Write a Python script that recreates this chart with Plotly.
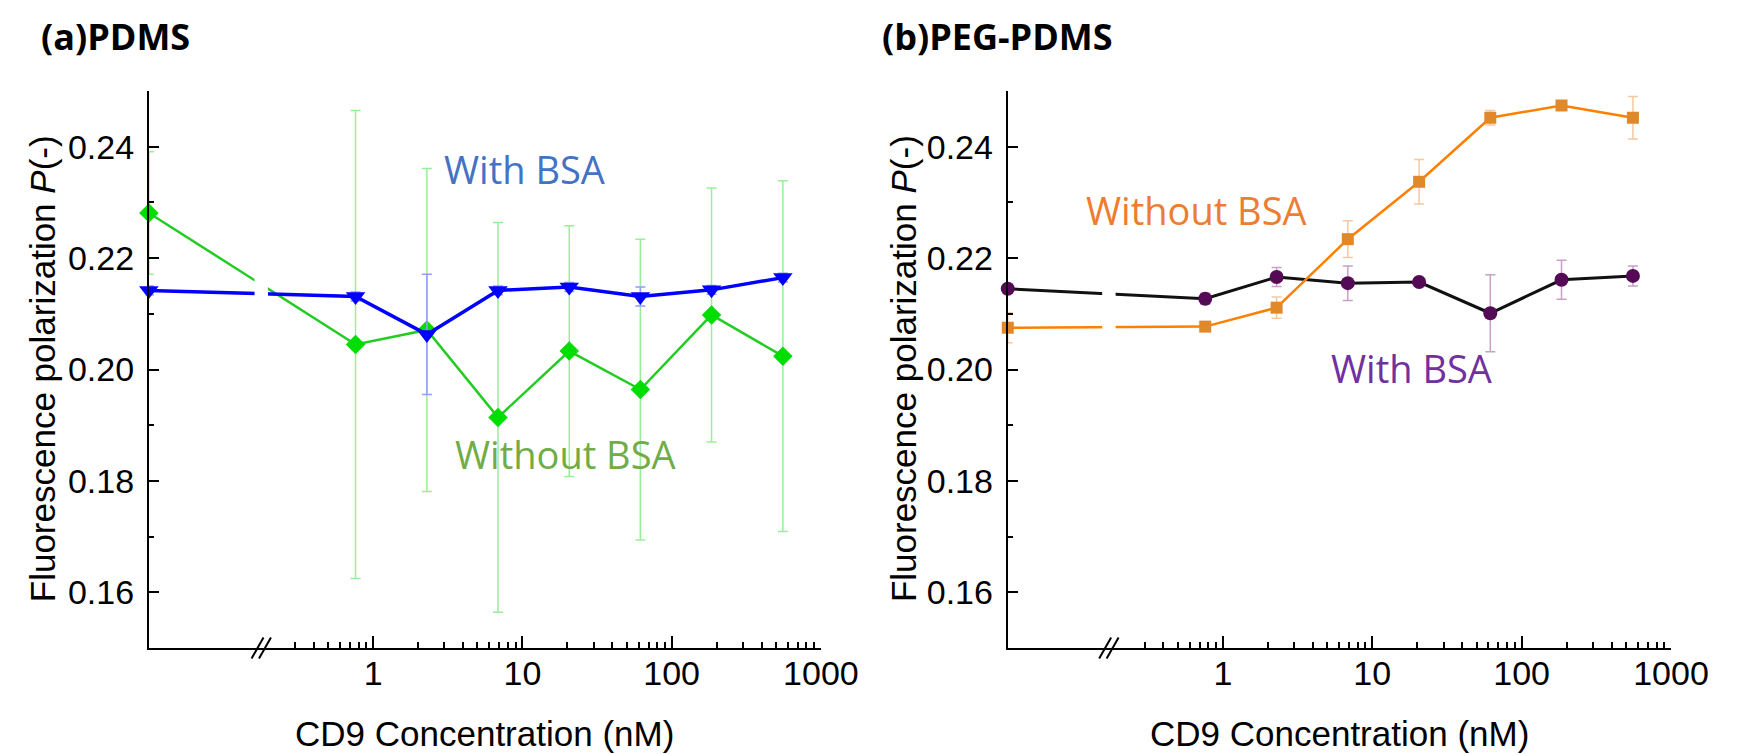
"""Fluorescence polarization vs CD9 concentration, PDMS vs PEG-PDMS."""

import numpy as np
import plotly.graph_objects as go

W, H = 1746, 754

# CD9 concentration (nM); 0 is drawn left of the axis break
CONC = [0, 0.762, 2.29, 6.86, 20.6, 61.7, 185, 556]

# (a) PDMS
PDMS_NO_BSA = [0.2281, 0.2045, 0.2071, 0.1914, 0.2033, 0.1964, 0.2098, 0.2024]
PDMS_NO_BSA_ERR = [0.011, 0.042, 0.029, 0.035, 0.0225, 0.027, 0.0228, 0.0315]
PDMS_BSA = [0.2142, 0.2131, 0.2063, 0.2142, 0.2148, 0.2131, 0.2143, 0.2165]
PDMS_BSA_ERR = [0.0008, 0.0008, 0.0108, 0.0008, 0.0008, 0.0017, 0.0008, 0.0008]

# (b) PEG-PDMS
PEG_NO_BSA = [0.2075, 0.2077, 0.2111, 0.2234, 0.2337, 0.2452, 0.2474, 0.2452]
PEG_NO_BSA_ERR = [0.0027, 0.0006, 0.0019, 0.0033, 0.004, 0.0013, 0.0008, 0.0038]
PEG_BSA = [0.2145, 0.2127, 0.2166, 0.2155, 0.2157, 0.2101, 0.2161, 0.2168]
PEG_BSA_ERR = [0.0008, 0.001, 0.0017, 0.0031, 0.0005, 0.0069, 0.0035, 0.0018]

X_TICKS = [1, 10, 100, 1000]
X_MINOR = [m * 10.0 ** k for k in range(-1, 3) for m in range(2, 10) if m * 10.0 ** k > 0.25]
Y_TICKS = [0.16, 0.18, 0.20, 0.22, 0.24]
Y_MINOR = [0.15, 0.17, 0.19, 0.21, 0.23, 0.25]

# where concentration 0 and the break sit, in decades
ZERO_POS = {"a": -1.503, "b": -1.44}
BREAK_POS = {"a": -0.75, "b": -0.763}

TICK_FONT = dict(family="Liberation Sans, Arial, sans-serif", size=34, color="black")
LABEL_FONT = "Open Sans, sans-serif"


def to_axis(conc, zero_pos):
    return [zero_pos if c == 0 else float(np.log10(c)) for c in conc]


def add_series(fig, panel, xa, ya, y, err, symbol, msize, mcolor, lcolor, lwidth, ecolor):
    fig.add_trace(
        go.Scatter(
            x=to_axis(CONC, ZERO_POS[panel]),
            y=y,
            mode="lines+markers",
            line=dict(color=lcolor, width=lwidth),
            marker=dict(symbol=symbol, size=msize, color=mcolor),
            error_y=dict(type="data", array=err, color=ecolor, thickness=1.5, width=5),
            cliponaxis=False,
            showlegend=False,
            xaxis=xa,
            yaxis=ya,
        )
    )


fig = go.Figure()

add_series(fig, "a", "x", "y", PDMS_NO_BSA, PDMS_NO_BSA_ERR, "diamond", 15,
           "#00DD00", "#22CC22", 2.5, "#99EE99")
add_series(fig, "a", "x", "y", PDMS_BSA, PDMS_BSA_ERR, "triangle-down", 17,
           "#0000FF", "#0000FF", 3.5, "#9999FF")
add_series(fig, "b", "x2", "y2", PEG_BSA, PEG_BSA_ERR, "circle", 14,
           "#550A55", "#111111", 3, "#C8A0C8")
add_series(fig, "b", "x2", "y2", PEG_NO_BSA, PEG_NO_BSA_ERR, "square", 12,
           "#E0892B", "#FF8000", 2.5, "#F5C9A0")

domains = {"a": [144 / W, 831 / W], "b": [1022 / W, 1700 / W]}
y_domain = [1 - 640 / H, 1 - 83 / H]

for panel, xname, yname in [("a", "xaxis", "yaxis"), ("b", "xaxis2", "yaxis2")]:
    anchor_y = "y" if panel == "a" else "y2"
    anchor_x = "x" if panel == "a" else "x2"
    fig.update_layout(**{
        xname: dict(
            domain=domains[panel], anchor=anchor_y, range=[ZERO_POS[panel], 3],
            showgrid=False, zeroline=False, showline=True, linecolor="black", linewidth=2,
            ticks="inside", ticklen=12, tickwidth=1.5, tickcolor="black",
            tickvals=[float(np.log10(v)) for v in X_TICKS],
            ticktext=[str(v) for v in X_TICKS], tickfont=TICK_FONT,
            ticklabelstandoff=-6,
            minor=dict(tickvals=[float(np.log10(v)) for v in X_MINOR], ticks="inside",
                       ticklen=6, tickwidth=1.5, tickcolor="black"),
        ),
        yname: dict(
            domain=y_domain, anchor=anchor_x, range=[0.15, 0.25],
            showgrid=False, zeroline=False, showline=True, linecolor="black", linewidth=2,
            ticks="inside", ticklen=10, tickwidth=1.5, tickcolor="black",
            tickvals=Y_TICKS, ticktext=[f"{v:.2f}" for v in Y_TICKS], tickfont=TICK_FONT,
            ticklabelstandoff=6,
            minor=dict(tickvals=Y_MINOR, ticks="inside", ticklen=5, tickwidth=1.5,
                       tickcolor="black"),
        ),
    })

    # axis break: hide the lines through it and draw the // marks
    xref = anchor_x
    yref = anchor_y + " domain"
    b = BREAK_POS[panel]
    fig.add_shape(type="rect", xref=xref, yref=yref, x0=b - 0.045, x1=b + 0.045,
                  y0=0.03, y1=0.99, fillcolor="white", line_width=0, layer="above")
    for off in (-0.025, 0.025):
        fig.add_shape(type="line", xref=xref, yref=yref,
                      x0=b + off - 0.04, x1=b + off + 0.04, y0=-0.019, y1=0.019,
                      line=dict(color="black", width=2), layer="above")

annotations = [
    # panel titles
    dict(text="<b>(a)PDMS</b>", x=32 / W, y=1 - 29 / H, xanchor="left",
         font=dict(family=LABEL_FONT, size=36, color="black")),
    dict(text="<b>(b)PEG-PDMS</b>", x=891 / W, y=1 - 29 / H, xanchor="left",
         font=dict(family=LABEL_FONT, size=36, color="black")),
    # axis titles
    dict(text="Fluorescence polarization <i>P</i>(-)", x=35 / W, y=1 - 361 / H,
         textangle=-90, font=dict(family=TICK_FONT["family"], size=35, color="black")),
    dict(text="Fluorescence polarization <i>P</i>(-)", x=915 / W, y=1 - 361 / H,
         textangle=-90, font=dict(family=TICK_FONT["family"], size=35, color="black")),
    dict(text="CD9 Concentration (nM)", x=487 / W, y=1 - 725 / H,
         font=dict(family=TICK_FONT["family"], size=35, color="black")),
    dict(text="CD9 Concentration (nM)", x=1361 / W, y=1 - 725 / H,
         font=dict(family=TICK_FONT["family"], size=35, color="black")),
    # series labels
    dict(text="With BSA", x=528 / W, y=1 - 161 / H,
         font=dict(family=LABEL_FONT, size=38, color="#4472C4")),
    dict(text="Without BSA", x=570 / W, y=1 - 446 / H,
         font=dict(family=LABEL_FONT, size=38, color="#70AD47")),
    dict(text="Without BSA", x=1215 / W, y=1 - 202 / H,
         font=dict(family=LABEL_FONT, size=38, color="#ED7D31")),
    dict(text="With BSA", x=1435 / W, y=1 - 360 / H,
         font=dict(family=LABEL_FONT, size=38, color="#7030A0")),
]
for a in annotations:
    a.update(xref="paper", yref="paper", showarrow=False, yanchor="middle")
    a.setdefault("xanchor", "center")

fig.update_layout(
    width=W,
    height=H,
    margin=dict(l=0, r=0, t=0, b=0),
    paper_bgcolor="white",
    plot_bgcolor="white",
    annotations=annotations,
)

fig.write_html("out.html")
